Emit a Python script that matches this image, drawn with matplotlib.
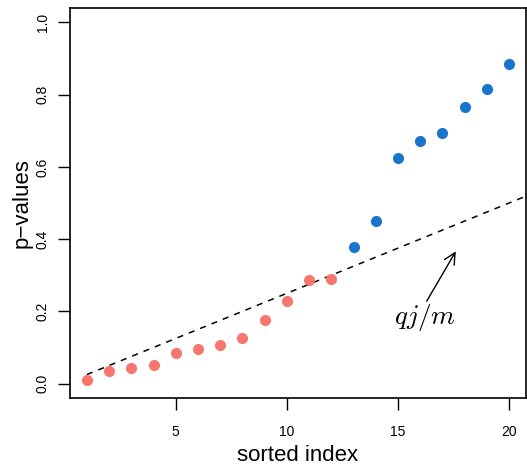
import matplotlib
matplotlib.use("Agg")
import matplotlib.pyplot as plt

# sorted p-values, first 12 below the BH line, the rest above
idx_low = [1, 2, 3, 4, 5, 6, 7, 8, 9, 10, 11, 12]
p_low = [0.011, 0.036, 0.042, 0.052, 0.085, 0.095, 0.108, 0.127, 0.177, 0.230, 0.286, 0.290]
idx_high = [13, 14, 15, 16, 17, 18, 19, 20]
p_high = [0.377, 0.451, 0.626, 0.671, 0.693, 0.765, 0.815, 0.885]

q = 0.5
m = 20

plt.rcParams["font.family"] = ["Liberation Sans", "DejaVu Sans"]
plt.rcParams["mathtext.fontset"] = "cm"

fig = plt.figure(figsize=(5.27, 4.66), dpi=100)
ax = fig.add_axes([70 / 527, 1 - 398 / 466, 456 / 527, 390 / 466])

# BH reference line q*j/m
line_x = [1, 21]
ax.plot(line_x, [q * j / m for j in line_x], color="black", lw=1.1,
        linestyle=(0, (4, 4)))

ax.plot(idx_low, p_low, "o", color="#F8766D", ms=8, mec="none")
ax.plot(idx_high, p_high, "o", color="#1874CD", ms=8, mec="none")

# label and arrow pointing at the line
ax.text(16.23, 0.182, r"$qj/m$", fontsize=19.5, ha="center", va="center")
ax.annotate("", xy=(17.6, 0.366), xytext=(16.29, 0.228),
            arrowprops=dict(arrowstyle="->", lw=1.0, color="black",
                            shrinkA=0, shrinkB=0, mutation_scale=20))

ax.set_xlim(0.24, 20.76)
ax.set_ylim(-0.04, 1.04)
ax.set_xticks([5, 10, 15, 20])
ax.set_yticks([0.0, 0.2, 0.4, 0.6, 0.8, 1.0])
ax.set_yticklabels(["0.0", "0.2", "0.4", "0.6", "0.8", "1.0"], rotation=90,
                   va="center")
ax.tick_params(direction="out", length=8.5, width=1.0, labelsize=10)
ax.tick_params(axis="x", pad=11)
ax.tick_params(axis="y", pad=6)
for s in ax.spines.values():
    s.set_linewidth(1.2)

ax.set_xlabel("sorted index", fontsize=16, labelpad=4.5)
ax.set_ylabel("p\u2212values", fontsize=16, labelpad=2.5)

fig.savefig("out.png", dpi=100)
